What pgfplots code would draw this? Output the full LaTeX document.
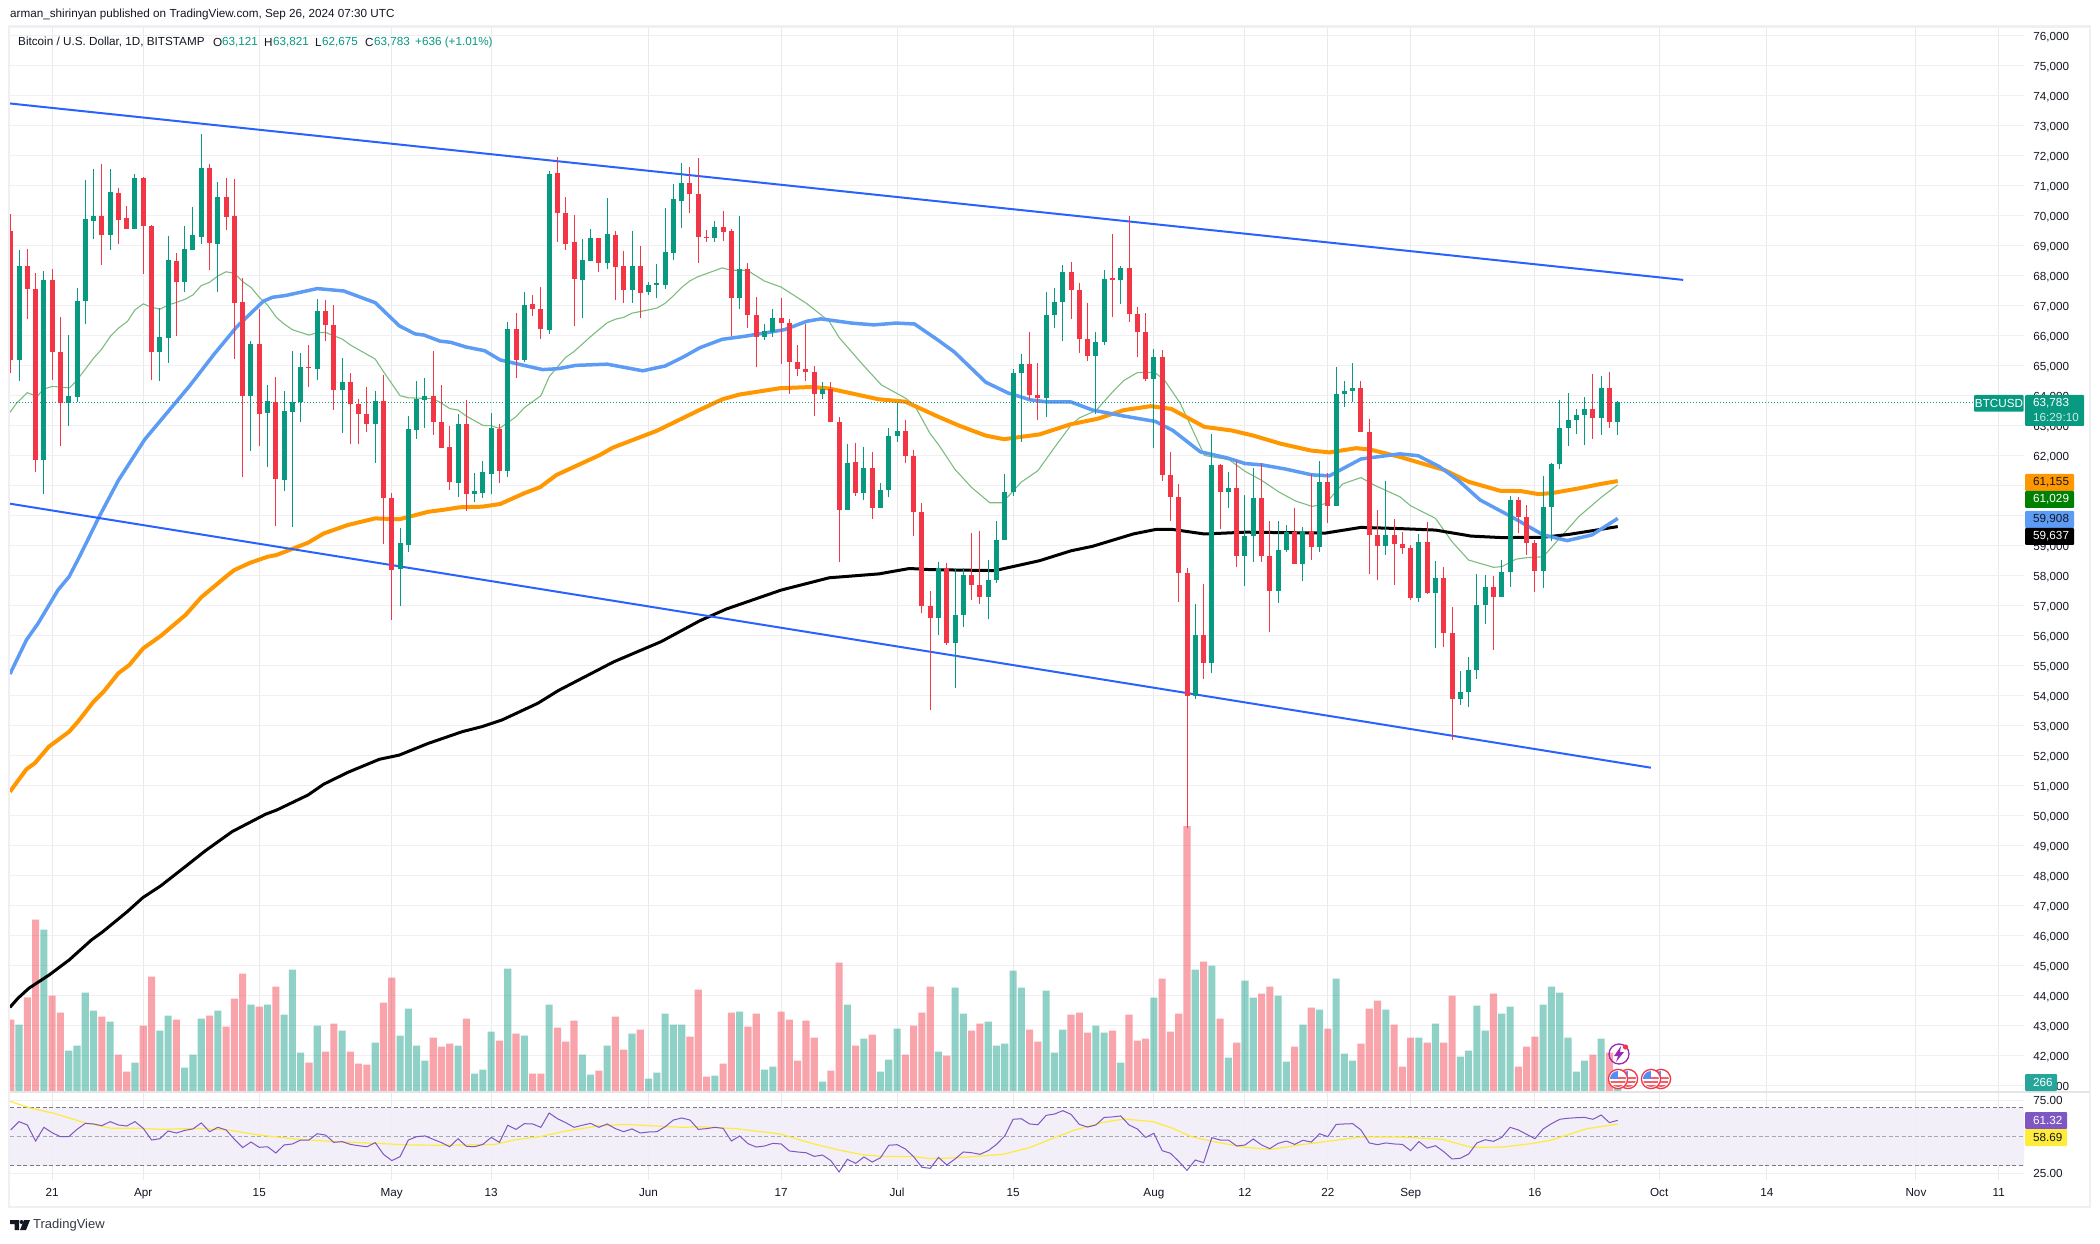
\documentclass[border=0pt]{standalone}
\usepackage{fontspec}
\setmainfont{Liberation Sans}
\usepackage{pgfplots}
\usepackage{pgfplotstable}
\pgfplotsset{compat=1.18}
\definecolor{upc}{HTML}{089981}
\definecolor{dnc}{HTML}{F23645}
\definecolor{trend}{HTML}{2962FF}
\definecolor{ma50}{HTML}{5D9CF5}
\definecolor{ma100}{HTML}{FF9800}
\definecolor{ma20}{HTML}{7CBD7F}
\definecolor{ink}{HTML}{131722}
\definecolor{gridc}{HTML}{F0F0F3}
\definecolor{gridv}{HTML}{E9E9EE}
\definecolor{framec}{HTML}{F0F0F4}
\definecolor{rsic}{HTML}{7E57C2}
\definecolor{rsiy}{HTML}{FFEB3B}
\definecolor{rsib}{HTML}{F2EEF9}
\definecolor{dashc}{HTML}{787B86}
\definecolor{tagg}{HTML}{26A69A}
\definecolor{dkgreen}{HTML}{008000}
\definecolor{evt}{HTML}{9C27B0}

% d o h l c v  (d = days since 1 Apr 2024)
\pgfplotstableread{
d o h l c v
-15 65190 68860 64500 68320 2020
-12 61860 68160 60720 67860 4870
-9 63750 66020 62990 63990 1240
-8 63960 67590 63790 67160 1390
-7 67160 71190 66400 69890 2980
-6 69820 71560 69220 69990 2440
-4 69360 71560 68860 70790 2110
-1 69560 71390 69560 71260 880
2 65440 66920 64490 65960 1840
3 65920 69320 65090 68520 2290
5 67790 69660 67460 68890 730
6 68860 70290 68860 69360 1120
7 69290 72720 69060 71590 2200
9 69060 71120 67460 70620 2440
13 63990 65820 62160 65720 2620
15 63420 64360 61620 63820 2620
17 61190 64160 60820 63490 2320
18 63460 65490 59630 63790 3670
19 63790 65420 63120 64960 1180
21 64890 67220 64520 66820 1990
24 64190 65260 62760 64460 1840
28 63060 64160 61760 63820 1480
31 58220 59590 57000 59090 1690
32 59030 63320 58790 62890 2500
33 62860 64490 62560 63890 1390
34 63860 64590 62920 63990 940
38 61090 63390 60620 63060 1390
40 60730 61420 60460 60830 550
41 60760 61820 60590 61460 670
42 61390 63420 60720 62920 1810
44 61490 66460 61290 66220 3700
46 65190 67460 65120 67020 1690
49 66190 71490 66060 71390 2620
53 67860 69220 66590 68520 1120
54 68490 69560 68490 69260 520
56 68420 70590 68220 69390 1390
59 67520 69490 67090 68320 1750
61 67460 67790 67360 67690 400
62 67690 68390 67260 67740 580
63 67690 70260 67560 68790 2350
64 68760 71060 68520 70560 2020
65 70490 71760 69590 71090 2020
69 69260 69830 69120 69620 490
72 67270 69990 66890 68230 2410
75 65960 66380 65850 66150 670
76 66120 66880 65960 66580 760
82 64060 64450 63890 64230 310
85 60200 62380 60200 61760 2620
87 60760 62290 60520 61590 1600
89 60270 61100 60270 60860 610
90 60860 62930 60610 62650 970
91 62650 63770 62450 62820 1900
96 56600 58460 56020 58260 1210
98 55740 58240 54270 56690 3130
99 56690 58260 56300 58020 2350
102 57290 58530 56540 57860 2110
103 57860 59830 57760 59190 1390
104 59190 61390 59190 60790 1450
105 60790 64900 60670 64760 3640
106 64760 65380 62450 65050 3130
109 63930 67450 63290 66690 3040
110 66690 67600 66260 67120 1180
111 67120 68360 65820 68120 1870
115 65320 66120 63380 65790 1990
116 65790 68190 65700 67890 1780
118 67850 68310 67060 68270 880
122 64550 65550 62240 65290 2830
127 53980 57040 53900 56020 3670
129 55100 62730 54750 61690 3790
131 60800 61450 60260 60930 1030
133 58650 60700 57670 59320 3340
134 59320 61600 58440 60600 2830
137 57490 59810 57100 58860 2890
138 58860 59690 58800 59450 910
140 58400 59620 57820 59480 2020
142 58950 61810 58800 61120 2470
144 60330 64950 60330 64050 3400
145 64050 64480 63620 64150 1150
146 64150 65100 63790 64260 940
150 59000 61150 58700 59360 2470
154 57270 59390 57120 59110 1630
156 57410 58490 55590 57920 2050
159 53890 54820 53690 54120 1060
160 54120 55290 53620 54860 1240
161 54860 58060 54560 57020 2590
162 57020 58020 56390 57620 1840
164 57290 58520 57290 58120 2350
165 58120 60660 57620 60520 2560
169 58160 61320 57590 60290 2620
170 60290 61760 59160 61720 3160
171 61720 63860 61560 62920 2980
172 62920 64090 62320 63190 1630
173 63190 63560 62720 63360 610
174 63360 63960 62360 63560 940
176 63260 64660 62690 64260 1600
178 63121 63821 62675 63783 266
}\tblup

\pgfplotstableread{
d o h l c v
-16 69490 70060 64770 65190 2170
-14 68320 68890 66560 67570 2840
-13 67570 68080 61440 61860 5170
-11 67860 68220 64520 65440 2890
-10 65440 66620 62320 63750 2380
-5 69990 71720 68360 69360 2260
-3 70760 70920 69060 69860 1120
-2 69920 70320 69560 69560 610
0 71260 71290 68060 69660 1990
1 69660 69690 64520 65440 3460
4 68490 68760 65990 67790 2170
8 71590 71720 68190 69090 2290
10 70620 71260 69520 69960 1960
11 69990 71220 65220 67090 2800
12 67120 67920 61300 63990 3550
14 65720 66890 62320 63390 2560
16 63790 64620 59660 61220 3160
20 64970 65690 64300 64930 880
22 66820 67190 65820 66360 1210
23 66360 67020 63520 64190 2050
25 64460 64750 62400 63720 1210
26 63720 63890 62390 63390 850
27 63390 64290 62790 63060 820
29 63820 64690 59060 60590 2680
30 60590 60760 56520 58190 3430
35 63990 65490 62690 63120 1630
36 63120 64360 62260 62260 1360
37 62290 62990 60860 61120 1450
39 63060 63860 60160 60730 2200
43 62890 63060 61090 61490 1540
45 66220 66760 64590 65190 1750
47 67060 67360 66660 66890 550
48 66890 67620 65890 66220 550
50 71420 71960 69120 70090 1930
51 70090 70620 68860 69060 1510
52 69120 70020 66320 67890 2140
55 69260 69260 68120 68420 640
57 69360 69490 67190 68290 2260
58 68320 68820 67090 67520 1270
60 68320 68990 66590 67420 1870
66 71090 71620 70090 70720 1660
67 70720 71920 68420 69290 3070
68 69290 69510 69120 69250 460
70 69620 70170 69150 69450 850
71 69490 69550 66000 67270 2380
73 68230 68420 66240 66690 1960
74 66690 67290 64940 65960 2350
77 66590 67250 65070 66430 2410
78 66430 66550 64040 65110 2170
79 65110 65680 64670 64900 940
80 64900 66400 64490 64790 2140
81 64790 64990 63330 64060 1630
83 64210 64450 63110 63110 640
84 63110 63290 58440 60200 3880
86 61780 62430 60670 60760 1390
88 61590 62120 59900 60270 1720
92 62820 63190 61740 61990 1120
93 61990 62190 59330 60110 1990
94 60110 60430 56740 57000 2380
95 57000 57490 53520 56600 3160
97 58260 58420 55700 55740 1090
100 58020 59430 57190 57690 1840
101 57690 59490 57070 57290 2050
107 65050 66120 63860 64020 1870
108 64020 65100 63200 63930 1510
112 68120 68450 66570 67520 2320
113 67520 67760 65430 65890 2380
114 65890 67100 65170 65320 1780
117 67930 69390 66620 67850 1840
119 68270 69990 66440 66730 2320
120 66730 66950 65300 66120 1540
121 66120 66770 64480 64550 1600
123 65290 65520 61150 61360 3400
124 61360 62120 59830 60620 1810
125 60620 61060 57130 58100 2350
126 58100 58260 49580 53980 7980
128 56020 57730 54570 55100 3910
130 61690 61710 59570 60800 2200
132 60930 61830 58280 58650 1480
135 60600 61770 58440 58650 2950
136 58650 59810 56120 57490 3160
139 59450 60260 58400 58400 1360
141 59480 61380 58520 58950 2530
143 61120 61420 59770 60330 1900
147 64260 64500 62800 62800 1450
148 62800 63230 58070 59370 2500
149 59370 60190 57870 59000 2740
151 59360 59890 57700 59060 2020
152 59060 59440 58720 58920 760
153 58920 59020 57190 57270 1630
155 59110 59800 57390 57410 1480
157 57920 58300 55620 56090 1480
158 56090 56960 52520 53890 2890
163 57620 57990 55520 57290 2950
166 60520 60620 59420 59960 760
167 59960 60360 58690 59090 1360
168 59090 59190 57460 58160 1660
175 63560 64720 62560 63260 1120
177 64260 64790 62920 63120 1180
}\tbldown

\pgfplotstableread{
d p
-16.1 43610
-15.15 43910
-13.8 44250
-11.37 44690
-8.95 45190
-6.25 45860
-4.9 46130
-1.94 46800
-0.05 47270
2.1 47660
5.34 48360
7.49 48830
10.73 49470
14.77 50050
16.12 50190
19.89 50690
21.78 51050
24.74 51450
28.5 51880
30.9 52020
34.4 52410
38.5 52800
40.9 52970
43.3 53190
47.65 53750
50.1 54170
56.8 55130
62.5 55800
67.2 56500
70.4 56890
77 57520
82.8 57930
88.8 58060
92.5 58240
95.2 58200
102.8 58170
108.2 58500
112 58830
114.6 58980
119.5 59390
122.2 59540
124.3 59540
128.1 59390
133 59450
142.7 59420
147 59610
151.7 59570
156 59520
160.3 59320
164 59270
169 59280
172.2 59380
175.4 59520
178 59637
}\tblblack

\pgfplotstableread{
d p
-16.1 50800
-14.1 51550
-13.1 51750
-11.4 52300
-8.95 52800
-7.9 53130
-6 53800
-4.8 54130
-3 54750
-1.7 55020
0 55580
2.1 55990
5.1 56690
7 57280
10.2 58020
11 58190
12.9 58430
15 58630
16.1 58690
19.9 59100
21.8 59410
24.7 59690
28 59910
30.9 59880
34.4 60130
36.6 60210
38.2 60280
40.9 60300
43.1 60390
46 60750
47.9 60950
49.9 61360
55.1 62020
56.7 62270
62 62830
67.2 63530
69.9 63880
72 64040
76.9 64250
80.7 64290
82.8 64240
87.1 63980
88.8 63880
92 63800
95.8 63320
98.5 63000
101.7 62670
103.9 62550
108.2 62710
112 63050
115.2 63230
118.4 63520
121.6 63650
124.1 63560
128.1 62960
131.4 62840
134 62670
137.3 62400
141 62170
143.2 62110
146.4 62250
148 62210
151.7 61960
153.9 61780
157.1 61520
160 61130
163.8 60830
166.3 60820
168.4 60720
170 60750
173.3 60910
176 61060
178 61155
}\tblorange

\pgfplotstableread{
d p
-16.1 54720
-14.1 55860
-12.7 56410
-10.3 57520
-8.95 57970
-7.6 58690
-5.3 59980
-3 61180
0.2 62550
3.45 63620
5.6 64330
8.6 65400
11.3 66300
14.5 67150
15.6 67280
17.2 67340
21 67570
24.2 67490
28 67100
30.9 66330
32.8 66060
33.9 66020
35.8 65820
37.1 65780
39 65620
41.2 65500
43.1 65190
45.8 65020
48.2 64870
50.1 64900
52.2 65010
56 65050
60.3 64830
63 64990
65.2 65290
67.2 65600
69.9 65880
72.6 65980
77.4 66200
80.1 66480
81.8 66560
83.4 66500
85.5 66420
88.2 66360
90.9 66420
93.1 66390
95.8 65880
97.9 65460
101.7 64450
104.4 64090
107.1 63860
109.2 63790
112 63790
114.6 63520
118.4 63320
122.2 63140
124.3 62840
127.6 62130
130.8 61930
133 61740
135.1 61690
137.8 61560
141.1 61360
143.2 61330
147 61890
151.7 62060
153.9 62000
156.5 61630
158.7 61190
161.4 60520
165.2 59960
169 59360
171.9 59170
174.9 59360
178 59908
}\tblblue

\pgfplotstableread{
d p
-16.1 63440
-15.3 63750
-14 64100
-12.8 63970
-12.1 64210
-11 64310
-8.9 64260
-8 64520
-6 65250
-5 65560
-4 65970
-3 66250
-1.9 66480
-1 66860
0 67060
1 66950
2 66880
3 67020
4 67110
5.1 67220
6 67360
7 67670
8 67780
9.05 68000
10 68130
11 68080
12.1 67780
13 67610
14 67280
15 67020
16.1 66600
17 66390
18 66200
20 66020
21 66100
22 66110
23 66000
24 65890
25 65690
28 65220
29 64800
31 64000
32 63930
35 63900
36 63750
37 63570
38 63520
39 63320
41 63010
42 63000
43 62910
44 63100
45 63300
46 63600
48 64000
49 64630
50 64960
51 65280
52 65470
54 65970
56 66430
57 66550
58 66610
59 66750
61 66860
62 66920
63 67080
64 67330
65 67610
66 67830
67 67970
69.9 68260
71 68180
72.9 68180
75 67820
77 67620
80.1 67070
82.8 66480
84 65940
86.9 65020
89.1 64360
92 63920
93.1 63680
95 62730
96 62370
98 61540
100 60940
102.2 60430
103.7 60430
106 61120
108 61500
110.1 62310
112 63020
113 63260
115 63500
117.3 64210
118.4 64510
120 64770
122.1 64780
123.3 64510
125.2 63740
128.1 62010
131.1 61860
133 61480
135 61180
137.1 60790
139.1 60490
141.1 60310
142.7 60400
144.8 61060
147 61270
148.6 61020
151.7 60630
153 60330
156 59910
158 59130
160 58520
163 58280
164 58300
165.7 58550
167 58600
169 58630
170.6 59130
173.3 59970
176 60610
178 61029
}\tblgreen

\pgfplotstableread{
d r
-16 54.7
-15 60.4
-14 58.1
-13 47.1
-12 56.5
-11 52.8
-10 50.1
-9 50.1
-8 55.1
-7 59.2
-6 58.8
-5 57.6
-4 60.4
-3 58.1
-2 57.4
-1 60.4
0 55.8
1 47.8
2 48.7
3 54
4 52.6
5 54.4
6 55.4
7 59.5
8 53.5
9 56.5
10 54.7
11 48.3
12 42.6
13 46.4
14 42.8
15 43.2
16 38.9
17 44.4
18 45.1
19 47.8
20 47.8
21 52.1
22 51.2
23 46.2
24 46.7
25 44.8
26 43.9
27 43.2
28 46
29 38
30 33.7
31 36.4
32 47.8
33 50.1
34 50.6
35 48.3
36 46
37 43.2
38 48.7
39 43.5
40 43.2
41 44.8
42 49.6
43 46.2
44 57.9
45 55.1
46 59
47 58.8
48 56.5
49 66.3
50 62.4
51 59.7
52 56.5
53 57.9
54 59.2
55 56.5
56 58.8
57 55.6
58 53.5
59 55.4
60 52.6
61 53.3
62 53.5
63 56.9
64 61.5
65 62.9
66 61.5
67 55.1
68 55.6
69 56.5
70 55.8
71 47.1
72 50.6
73 45.3
74 43
75 43.7
76 45.5
77 45.1
78 40.3
79 39.6
80 39.1
81 36.6
82 37.5
83 33.7
84 25.9
85 34.6
86 31.8
87 36.2
88 32.7
89 35.7
90 44.2
91 44.6
92 41.7
93 36.4
94 29.1
95 28.4
96 35.9
97 30.7
98 34.8
99 39.6
100 39.1
101 38
102 40.5
103 44.8
104 50.6
105 62
106 62.4
107 58.8
108 58.3
109 64.7
110 65.6
111 67.9
112 65.4
113 58.5
114 56.7
115 58.1
116 63.3
117 63.6
118 64.3
119 58.1
120 55.4
121 49.6
122 52.4
123 40.5
124 38.7
125 33.2
126 27
127 34.1
128 32.3
129 49.4
130 47.8
131 47.8
132 43.7
133 44.4
134 48.5
135 44.4
136 41.9
137 45.5
138 47.1
139 44.8
140 47.6
141 46.4
142 52.1
143 50.1
144 58.5
145 58.8
146 59
147 54.7
148 45.8
149 44.6
150 45.8
151 45.1
152 44.8
153 40.5
154 46.7
155 42.3
156 43.9
157 39.8
158 34.8
159 35.3
160 38.2
161 45.8
162 48
163 46.9
164 49.6
165 56.5
166 54.7
167 51.7
168 48.7
169 55.4
170 59
171 62
172 62.7
173 63.1
174 63.3
175 62
176 64.9
177 59.7
178 61.32
}\tblrsi

\pgfplotstableread{
d r
-16.1 74.3
-13.5 69.5
-10.8 66.1
-7.1 59.7
-3.8 55.8
0 55.8
2.1 55.1
6.4 55.8
10.2 54.7
14 51.2
18.3 48.5
23.1 46.7
28 45.5
32.3 44.4
36.6 44.2
42.5 44.8
44.7 47.8
47.9 50.1
50.6 53.5
54.9 57.4
58.2 58.5
61.9 57.4
65.2 56.5
67.2 56.9
71.5 55.6
76.9 51.9
80.7 45.5
83.9 41
87.1 37.5
89.3 36.6
93.1 36.4
95.2 35
98.5 35.7
103.8 38
107.1 42.8
110.3 50.1
112.5 54.7
115.7 59.7
118.4 62.2
121.9 60.4
124.3 55.8
126.5 50.1
129.2 46.7
133 42.8
136.2 41.4
139.5 44.4
142.7 46.7
147 49.9
151.7 49.9
156.8 48.3
160.3 42.8
164.1 43
167.8 45.5
170 47.8
174.3 55.6
178 58.69
}\tblrsima

\newcommand{\tf}{\fontsize{11.7}{14}\selectfont}
\pgfplotsset{
  tvx/.style={scale only axis, width=2014pt, xmin=-16.09, xmax=227.05},
  pricearea/.style={tvx, at={(10pt,151pt)}, anchor=south west, height=1065pt, ymin=40790, ymax=76290},
  overlay/.style={hide axis, clip=true},
}
% one US flag badge
\newcommand{\flag}[2]{%
  \begin{scope}
    \fill[white] (#1,#2) circle (10);
    \begin{scope}
      \clip (#1,#2) circle (8);
      \fill[dnc!80] (#1-8,#2-2) rectangle (#1+8,#2);
      \fill[dnc!80] (#1-8,#2+2) rectangle (#1+8,#2+4);
      \fill[dnc!80] (#1-8,#2+6) rectangle (#1+8,#2+8);
      \fill[ma50!90!blue] (#1-8,#2-8) rectangle (#1,#2);
    \end{scope}
    \draw[dnc, line width=1.3pt] (#1,#2) circle (9.6);
  \end{scope}}

\begin{document}
\begin{tikzpicture}
\useasboundingbox (0pt,0pt) rectangle (2100pt,1243pt);
\fill[white] (0pt,0pt) rectangle (2100pt,1243pt);

% grid and price labels
\begin{axis}[pricearea,
  axis line style={draw=none}, tick style={draw=none},
  xtick={-11,0,14,30,42,61,77,91,105,122,133,143,153,168,183,196,214,224},
  xticklabels={}, xmajorgrids, x grid style={gridv, line width=1pt},
  ytick={41000,42000,...,76000}, ymajorgrids, y grid style={gridc, line width=1pt},
  yticklabel pos=right, scaled y ticks=false,
  yticklabel style={anchor=west, inner sep=0pt, xshift=9pt, text height=9pt, text depth=0pt, font=\tf, text=ink,
    /pgf/number format/.cd, fixed, 1000 sep={,}, assume math mode=true},
]
\end{axis}

% volume
\begin{axis}[tvx, at={(10pt,151pt)}, anchor=south west, height=1065pt, ymin=0, ymax=31950, overlay]
\addplot[ybar, bar width=7.1pt, bar shift=0pt, fill=upc, fill opacity=0.45, draw=none] table [x=d, y=v] {\tblup};
\addplot[ybar, bar width=7.1pt, bar shift=0pt, fill=dnc, fill opacity=0.45, draw=none] table [x=d, y=v] {\tbldown};
\end{axis}

% price: averages, trend lines, candles
\begin{axis}[pricearea, overlay]
\addplot[ma20, line width=1.1pt] table [x=d, y=p] {\tblgreen};
\addplot[black, line width=3pt, line join=round] table [x=d, y=p] {\tblblack};
\addplot[ma100, line width=4pt, line join=round] table [x=d, y=p] {\tblorange};
\addplot[ma50, line width=3.5pt, line join=round] table [x=d, y=p] {\tblblue};
\addplot[trend, line width=2pt] coordinates {(-16.09,73740) (185.9,67860)};
\addplot[trend, line width=2pt] coordinates {(-16.09,60400) (182,51600)};
\addplot[upc, line width=0.9pt, dash pattern=on 1.3pt off 1.7pt] coordinates {(-16.09,63783) (221,63783)};
% wicks
\addplot[draw=none, error bars/.cd, y dir=plus, y explicit, error mark=none, error bar style={upc, line width=1pt}]
  table [x=d, y=l, y error plus expr=\thisrow{h}-\thisrow{l}] {\tblup};
\addplot[draw=none, error bars/.cd, y dir=plus, y explicit, error mark=none, error bar style={dnc, line width=1pt}]
  table [x=d, y=l, y error plus expr=\thisrow{h}-\thisrow{l}] {\tbldown};
% bodies
\addplot[draw=none, error bars/.cd, y dir=plus, y explicit, error mark=none, error bar style={upc, line width=5pt}]
  table [x=d, y=o, y error plus expr=\thisrow{c}-\thisrow{o}] {\tblup};
\addplot[draw=none, error bars/.cd, y dir=plus, y explicit, error mark=none, error bar style={dnc, line width=5pt}]
  table [x=d, y=c, y error plus expr=\thisrow{o}-\thisrow{c}] {\tbldown};
\end{axis}

% RSI pane
\begin{axis}[tvx, at={(10pt,63pt)}, anchor=south west, height=88pt, ymin=20.4, ymax=80.7,
  axis line style={draw=none}, tick style={draw=none},
  xtick={-11,0,14,30,42,61,77,91,105,122,133,143,153,168,183,196,214,224},
  xticklabels={21,Apr,15,May,13,Jun,17,Jul,15,Aug,12,22,Sep,16,Oct,14,Nov,11},
  xticklabel style={anchor=center, inner sep=0pt, yshift=-13pt, text height=9pt, text depth=3pt, font=\tf, text=ink},
  xmajorgrids, x grid style={gridv, line width=1pt},
  ytick={25,75}, ymajorgrids, y grid style={gridc, line width=1pt},
  yticklabel pos=right,
  yticklabel style={anchor=west, inner sep=0pt, xshift=9pt, text height=9pt, text depth=0pt, font=\tf, text=ink,
    /pgf/number format/.cd, fixed, fixed zerofill, precision=2, assume math mode=true},
]
\addplot[fill=rsib, draw=none, fill opacity=0.9] coordinates {(-16.09,30) (227.05,30) (227.05,70) (-16.09,70)} \closedcycle;
\addplot[dashc, line width=1pt, dash pattern=on 4pt off 2.5pt] coordinates {(-16.09,70) (227.05,70)};
\addplot[dashc!65, line width=1pt, dash pattern=on 4pt off 2.5pt] coordinates {(-16.09,50) (227.05,50)};
\addplot[dashc, line width=1pt, dash pattern=on 4pt off 2.5pt] coordinates {(-16.09,30) (227.05,30)};
\addplot[rsiy, line width=1.2pt] table [x=d, y=r] {\tblrsima};
\addplot[rsic, line width=1pt] table [x=d, y=r] {\tblrsi};
\end{axis}

% everything below uses picture pixels, y down
\begin{scope}[x=1pt, y=-1pt, shift={(0pt,1243pt)}]
  % frame and pane separator
  \draw[framec, line width=2.5pt] (9,26.5) rectangle (2090,1207);
  \draw[gridv!80!gray!60, line width=1.6pt] (10,1092) -- (2090,1092);

  % header text
  \node[anchor=west, inner sep=0pt, font=\tf, text=ink] at (10,14) {arman\_shirinyan published on TradingView.com, Sep 26, 2024 07:30 UTC};
  \node[anchor=west, inner sep=0pt, font=\tf, text=ink] at (18,42) {Bitcoin / U.S. Dollar, 1D, BITSTAMP};
  \node[anchor=west, inner sep=0pt, font=\tf, text=ink] at (213,42) {O};
  \node[anchor=west, inner sep=0pt, font=\tf, text=upc] at (222,42) {63,121};
  \node[anchor=west, inner sep=0pt, font=\tf, text=ink] at (264,42) {H};
  \node[anchor=west, inner sep=0pt, font=\tf, text=upc] at (273,42) {63,821};
  \node[anchor=west, inner sep=0pt, font=\tf, text=ink] at (315,42) {L};
  \node[anchor=west, inner sep=0pt, font=\tf, text=upc] at (322,42) {62,675};
  \node[anchor=west, inner sep=0pt, font=\tf, text=ink] at (365,42) {C};
  \node[anchor=west, inner sep=0pt, font=\tf, text=upc] at (374,42) {63,783};
  \node[anchor=west, inner sep=0pt, font=\tf, text=upc] at (415,42) {+636 (+1.01\%)};

  % value tags on the price scale
  \fill[upc, rounded corners=1pt] (1974,395) rectangle (2023.6,411.7);
  \node[font=\tf, text=white, inner sep=0pt] at (1999,403.5) {BTCUSD};
  \fill[upc, rounded corners=1pt] (2025,395) rectangle (2084,426);
  \node[anchor=west, font=\tf, text=white, inner sep=0pt] at (2033,403.5) {63,783};
  \node[anchor=west, font=\tf, text=white!80!upc, inner sep=0pt] at (2033,417) {16:29:10};
  \fill[ma100, rounded corners=1pt] (2025,474) rectangle (2074,491);
  \node[anchor=west, font=\tf, text=ink, inner sep=0pt] at (2033,482.5) {61,155};
  \fill[dkgreen, rounded corners=1pt] (2025,491) rectangle (2074,508);
  \node[anchor=west, font=\tf, text=white, inner sep=0pt] at (2033,499.5) {61,029};
  \fill[ma50, rounded corners=1pt] (2025,511) rectangle (2074,528);
  \node[anchor=west, font=\tf, text=ink, inner sep=0pt] at (2033,519.5) {59,908};
  \fill[black, rounded corners=1pt] (2025,528) rectangle (2074,545);
  \node[anchor=west, font=\tf, text=white, inner sep=0pt] at (2033,536.5) {59,637};
  \fill[tagg, rounded corners=1pt] (2025,1074) rectangle (2057,1091);
  \node[anchor=west, font=\tf, text=white, inner sep=0pt] at (2033,1082.5) {266};
  \fill[rsic, rounded corners=1pt] (2025,1112) rectangle (2067,1129);
  \node[anchor=west, font=\tf, text=white, inner sep=0pt] at (2033,1120.5) {61.32};
  \fill[rsiy, rounded corners=1pt] (2025,1129) rectangle (2067,1146);
  \node[anchor=west, font=\tf, text=ink, inner sep=0pt] at (2033,1137.5) {58.69};

  % event badges
  \draw[evt, line width=1.3pt] (1619,1054) circle (10);
  \fill[evt] (1621,1046) -- (1614,1056) -- (1618,1056) -- (1616,1062) -- (1624,1052) -- (1620,1052) -- cycle;
  \fill[dnc] (1625.5,1047) circle (2.6);
  \flag{1628}{1079}
  \flag{1618}{1079}
  \flag{1661}{1079}
  \flag{1651}{1079}

  % footer logo
  \fill[ink] (10,1220) rectangle (19,1224) (14.5,1220) rectangle (19,1230);
  \fill[ink] (21.5,1222) circle (2);
  \fill[ink] (24,1220) -- (30,1220) -- (26,1230) -- (20,1230) -- cycle;
  \node[anchor=west, inner sep=0pt, font=\fontsize{13}{15}\selectfont, text=ink!85] at (33,1225) {TradingView};
\end{scope}
\end{tikzpicture}
\end{document}
